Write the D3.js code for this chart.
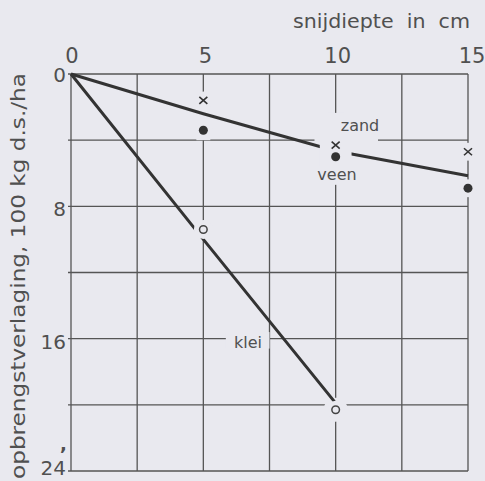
<!DOCTYPE html>
<html>
<head>
<meta charset="utf-8">
<script src="https://cdn.jsdelivr.net/npm/d3@7"></script>
<style>
  html, body { margin: 0; padding: 0; background: #e9e9ef; }
  svg { display: block; }
  text { font-family: "DejaVu Sans", sans-serif; fill: #505050; }
</style>
</head>
<body>
<svg id="chart"></svg>
<script>
// snijdiepte (cm) en opbrengstverlaging (100 kg d.s./ha)
const xTicks = [0, 5, 10, 15];
const yTicks = [0, 8, 16, 24];
const xGrid = [0, 2.5, 5, 7.5, 10, 12.5, 15];
const yGrid = [0, 4, 8, 12, 16, 20, 24];

const pointDepth = [5, 10, 15];
const zandPoints = [1.6, 4.3, 4.7];
const veenPoints = [3.4, 5.0, 6.9];
const kleiDepth = [5, 10];
const kleiPoints = [9.4, 20.3];

const lineDepth = [0, 5, 10, 15];
const zandVeenLine = [0, 2.4, 4.65, 6.15];
const kleiLineDepth = [0, 5, 10];
const kleiLine = [0, 10.0, 19.9];

const W = 485, H = 481;
const bg = '#e9e9ef';
const margin = { top: 74, left: 71, right: 17, bottom: 10 };

const svg = d3.select('#chart').attr('width', W).attr('height', H);
svg.append('rect').attr('width', W).attr('height', H).attr('fill', bg);

const x = d3.scaleLinear().domain([0, 15]).range([margin.left, 468]);
const y = d3.scaleLinear().domain([0, 24]).range([margin.top, 471]);

// grid
const grid = svg.append('g').attr('stroke', '#555').attr('stroke-width', 1.3);
grid.selectAll('.vx').data(xGrid).enter().append('line')
  .attr('x1', d => x(d)).attr('x2', d => x(d))
  .attr('y1', y(0)).attr('y2', y(24));
grid.selectAll('.hy').data(yGrid).enter().append('line')
  .attr('x1', x(0) - 3).attr('x2', x(15))
  .attr('y1', d => y(d)).attr('y2', d => y(d));

// gaps in the grid around marks and labels
const knock = svg.append('g').attr('fill', bg);
const allMarks = pointDepth.map((d, i) => [d, zandPoints[i]])
  .concat(pointDepth.map((d, i) => [d, veenPoints[i]]));
knock.selectAll('.km').data(allMarks).enter().append('circle')
  .attr('cx', d => x(d[0])).attr('cy', d => y(d[1])).attr('r', 9);
knock.selectAll('.kk').data(kleiDepth).enter().append('circle')
  .attr('cx', d => x(d)).attr('cy', (d, i) => y(kleiPoints[i])).attr('r', (d, i) => i ? 12 : 9);
knock.append('rect').attr('x', x(5) - 7).attr('y', y(1.1)).attr('width', 14).attr('height', y(4.0) - y(1.1));
knock.append('rect').attr('x', x(10) - 8).attr('y', y(2.35)).attr('width', 16).attr('height', y(6.7) - y(2.35));
knock.append('rect').attr('x', x(9.2)).attr('y', y(3.6)).attr('width', x(11.6) - x(9.2)).attr('height', y(4.8) - y(3.6));
knock.append('rect').attr('x', x(5.85)).attr('y', y(15.6)).attr('width', x(7.5) - x(5.85)).attr('height', y(16.6) - y(15.6));

// lines
const line = d3.line().x(d => x(d[0])).y(d => y(d[1]));
svg.append('path')
  .datum(lineDepth.map((d, i) => [d, zandVeenLine[i]]))
  .attr('d', line).attr('fill', 'none').attr('stroke', '#333').attr('stroke-width', 3);
svg.append('path')
  .datum(kleiLineDepth.map((d, i) => [d, kleiLine[i]]))
  .attr('d', line).attr('fill', 'none').attr('stroke', '#333').attr('stroke-width', 3);

// breaks in the lines near the markers
svg.append('circle').attr('cx', x(5)).attr('cy', y(kleiPoints[0])).attr('r', 9.5).attr('fill', bg);
svg.append('circle').attr('cx', x(10)).attr('cy', y(kleiPoints[1])).attr('r', 9).attr('fill', bg);
svg.append('rect').attr('x', x(9.4)).attr('y', y(4.0)).attr('width', x(10.6) - x(9.4))
  .attr('height', y(5.6) - y(4.0)).attr('fill', bg);

// markers
const marks = svg.append('g');
marks.selectAll('.cross').data(pointDepth).enter().append('path')
  .attr('transform', (d, i) => `translate(${x(d)},${y(zandPoints[i])})`)
  .attr('d', 'M-4,-3.5L4,3.5M-4,3.5L4,-3.5')
  .attr('stroke', '#333').attr('stroke-width', 1.6).attr('fill', 'none');
marks.selectAll('.dot').data(pointDepth).enter().append('circle')
  .attr('cx', d => x(d)).attr('cy', (d, i) => y(veenPoints[i]))
  .attr('r', 4.5).attr('fill', '#333');
marks.selectAll('.ring').data(kleiDepth).enter().append('circle')
  .attr('cx', d => x(d)).attr('cy', (d, i) => y(kleiPoints[i]))
  .attr('r', 3.8).attr('fill', 'none').attr('stroke', '#444').attr('stroke-width', 1.5);

// labels
svg.append('text').attr('x', x(10.92)).attr('y', y(3.45)).attr('text-anchor', 'middle')
  .style('font-size', '16px').text('zand');
svg.append('text').attr('x', x(10.05)).attr('y', y(6.4)).attr('text-anchor', 'middle')
  .style('font-size', '16px').text('veen');
svg.append('text').attr('x', x(6.69)).attr('y', y(16.55)).attr('text-anchor', 'middle')
  .style('font-size', '16px').text('klei');

// tick labels
svg.selectAll('.xt').data(xTicks).enter().append('text')
  .attr('x', d => x(d) + (d === 0 ? 1 : d === 15 ? 4 : 2)).attr('y', 63)
  .attr('text-anchor', 'middle').style('font-size', '21px')
  .text(d => d);
svg.selectAll('.yt').data(yTicks).enter().append('text')
  .attr('x', 66).attr('y', d => y(d) + (d === 24 ? -3 : d === 0 ? 1 : 3))
  .attr('text-anchor', 'end').attr('dominant-baseline', 'central')
  .style('font-size', '20px')
  .text(d => d);

// axis titles
svg.append('text').attr('x', 293).attr('y', 28)
  .attr('textLength', 177).attr('lengthAdjust', 'spacingAndGlyphs')
  .style('font-size', '19px').style('word-spacing', '6px')
  .text('snijdiepte in cm');
svg.append('text').attr('transform', 'translate(25,479) rotate(-90)')
  .attr('textLength', 406).attr('lengthAdjust', 'spacingAndGlyphs')
  .style('font-size', '19px')
  .text('opbrengstverlaging, 100 kg d.s./ha');
svg.append('text').attr('x', 60).attr('y', 450).style('font-size', '18px').style('font-weight', 'bold').text(',');
</script>
</body>
</html>
